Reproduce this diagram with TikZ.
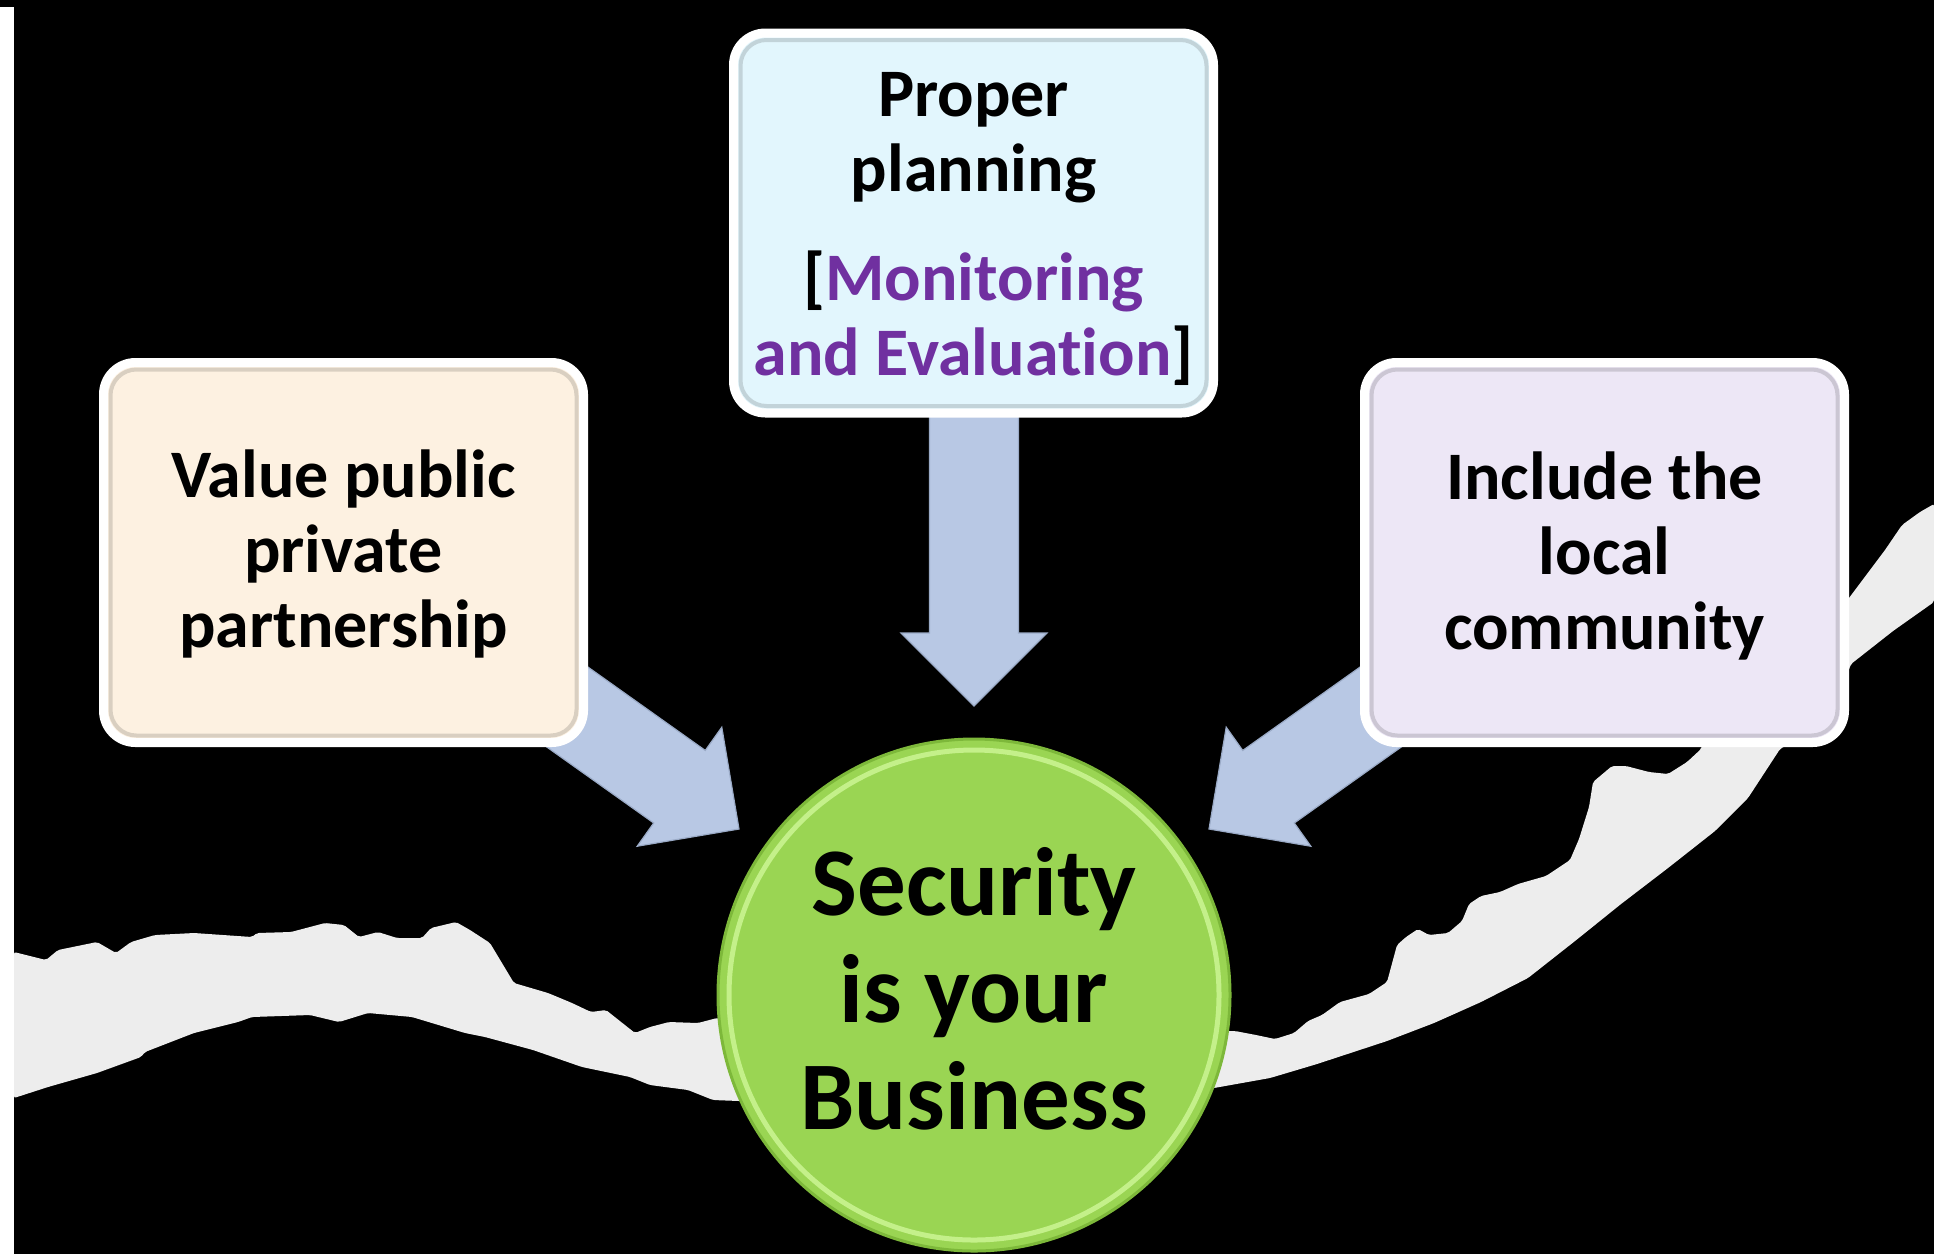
\documentclass[tikz,border=0pt]{standalone}
\usepackage{fontspec}
\setmainfont{Carlito}[Ligatures=NoCommon]
\usetikzlibrary{calc}
\definecolor{ybar}{HTML}{FFFF00}
\definecolor{paper}{HTML}{EDEDED}
\definecolor{arrowfill}{HTML}{B8C8E4}
\definecolor{arrowedge}{HTML}{9AAAC6}
\definecolor{peach}{HTML}{FDF1E1}
\definecolor{skyc}{HTML}{E2F6FD}
\definecolor{lilac}{HTML}{EDE7F6}
\definecolor{mpurple}{HTML}{7030A0}
\definecolor{gfill}{HTML}{9AD553}
\definecolor{gdark}{HTML}{7DB83A}
\definecolor{glight}{HTML}{C4F08A}
\newcommand\mybigarrow[3]{%
  \begin{scope}[shift={(#1)}, rotate=#2]
    \filldraw[fatarrowstyle] (0,0) -- (-73,73) -- (-73,44.5) -- (-#3,44.5) -- (-#3,-44.5) -- (-73,-44.5) -- (-73,-73) -- cycle;
  \end{scope}}
\begin{document}
\begin{tikzpicture}[x=1pt,y=-1pt,
  panel/.style={rounded corners=32pt, draw=white, line width=9pt, minimum width=480pt, minimum height=380pt, inner sep=0pt, outer sep=0pt},
  bevel/.style={rounded corners=26pt, line width=4pt, draw opacity=0.35},
  paneltext/.style={align=center, font=\bfseries\fontsize{68}{75}\selectfont, inner sep=0pt, text=black},
  bigtext/.style={align=center, font=\bfseries\fontsize{97}{107}\selectfont, inner sep=0pt, text=black},
  fatarrowstyle/.style={fill=arrowfill, draw=arrowedge, line width=1.2pt, line join=miter},
  tornpaper/.style={fill=paper, rounded corners=2pt}
]
\useasboundingbox (0,0) rectangle (1934,1254);
\fill[white] (0,0) rectangle (1934,1254);
\fill[black] (14,6) rectangle (1934,1254);

% torn paper strip
\fill[tornpaper] (14,952) -- (46,960) -- (58,950) -- (97,942) -- (116,953) -- (131,942) -- (155,935) -- (194,933) -- (252,937) -- (257,933) -- (291,932) -- (325,923) -- (344,925) -- (359,937) -- (378,932) -- (397,938) -- (422,938) -- (431,928) -- (456,922) -- (470,930) -- (490,943) -- (514,983) -- (548,993) -- (572,1003) -- (591,1012) -- (606,1010) -- (635,1033) -- (650,1027) -- (669,1022) -- (698,1023) -- (717,1018) -- (900,1040) -- (1235,1031) -- (1256,1035) -- (1275,1039) -- (1294,1033) -- (1308,1021) -- (1322,1015) -- (1340,1002) -- (1369,994) -- (1387,982) -- (1397,945) -- (1406,937) -- (1418,929) -- (1429,935) -- (1448,933) -- (1462,921) -- (1469,904) -- (1481,896) -- (1500,892) -- (1518,884) -- (1546,876) -- (1570,860) -- (1579,839) -- (1589,807) -- (1593,782) -- (1612,766) -- (1626,766) -- (1649,772) -- (1668,774) -- (1687,762) -- (1701,749) -- (1710,720) -- (1840,610) -- (1855,590) -- (1870,570) -- (1885,550) -- (1902,525) -- (1920,512) -- (1934,504) -- (1934,602) -- (1893,631) -- (1851,664) -- (1830,720) -- (1780,749) -- (1748,798) -- (1715,831) -- (1668,868) -- (1621,904) -- (1575,941) -- (1528,978) -- (1481,1002) -- (1434,1023) -- (1387,1041) -- (1317,1064) -- (1270,1078) -- (1214,1088) -- (974,1110) -- (713,1100) -- (688,1090) -- (650,1085) -- (630,1077) -- (582,1067) -- (533,1050) -- (485,1037) -- (465,1033) -- (412,1017) -- (368,1013) -- (339,1022) -- (310,1015) -- (252,1017) -- (238,1022) -- (194,1033) -- (145,1052) -- (141,1057) -- (97,1073) -- (48,1087) -- (14,1098) -- cycle;

% arrow tips, relative to the circle centre
\coordinate (secc) at (974,995);
\coordinate (tipT) at ($(secc)+(0,-289)$);
\coordinate (tipL) at ($(secc)+(-235,-166)$);
\coordinate (tipR) at ($(secc)+(235,-166)$);
\mybigarrow{tipT}{-90}{306}
\mybigarrow{tipL}{-35.4}{250}
\mybigarrow{tipR}{-144.6}{250}

% boxes
\node[panel, fill=peach] (ppp) at (343.5,552.5) {};
\node[panel, fill=skyc] (plan) at (973.5,223) {};
\node[panel, fill=lilac] (comm) at (1604.5,552.5) {};
\draw[bevel, draw=peach!60!black] ([shift={(7,7)}]ppp.north west) rectangle ([shift={(-7,-7)}]ppp.south east);
\draw[bevel, draw=skyc!60!black] ([shift={(7,7)}]plan.north west) rectangle ([shift={(-7,-7)}]plan.south east);
\draw[bevel, draw=lilac!60!black] ([shift={(7,7)}]comm.north west) rectangle ([shift={(-7,-7)}]comm.south east);

% central circle
\node[circle, minimum size=512pt, fill=gfill, draw=gdark, line width=3pt, inner sep=0pt, outer sep=0pt] (sec) at (secc) {};
\draw[glight, line width=5pt] (sec.center) circle[radius=245pt];

% texts
\node[paneltext] (ppptext) at (343.5,554) {Value public\\private\\partnership};
\node[paneltext] (plantext) at (973.5,229) {Proper\\planning\\[34pt]{[}\textcolor{mpurple}{Monitoring}\\\textcolor{mpurple}{and Evaluat\kern0pt ion}]};
\node[paneltext] (commtext) at (1604.5,556) {Include the\\local\\community};
\node[bigtext] (sectext) at (974,989) {Security\\is your\\Business};

\fill[ybar] (0,0) rectangle (1934,6.5);
\end{tikzpicture}
\end{document}
